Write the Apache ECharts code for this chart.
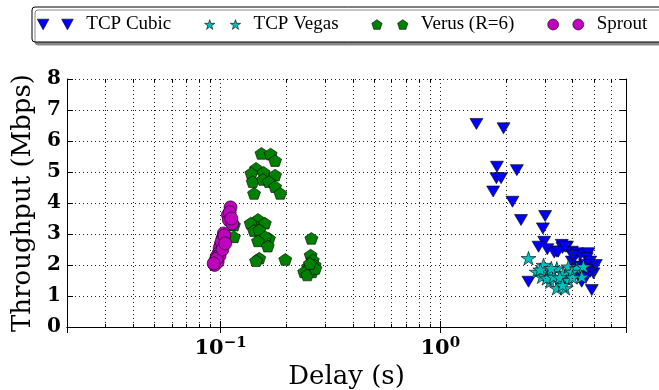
<!DOCTYPE html>
<html>
<head>
<meta charset="utf-8">
<script src="https://cdn.jsdelivr.net/npm/echarts@6/dist/echarts.min.js"></script>
<style>html,body{margin:0;padding:0;background:#fff;}#c{width:659px;height:390px;}</style>
</head>
<body>
<div id="c"></div>
<script>
// ---- data ----
const seriesNames = ['TCP Cubic', 'TCP Vegas', 'Verus (R=6)', 'Sprout'];
const cubicX = [1.46,1.94,1.81,2.23,1.80,1.89,1.74,2.13,2.33,3.00,2.93,2.97,2.80,3.07,3.39,2.52,3.57,3.77,3.97,4.18,4.33,4.72,4.64,4.81,4.89,4.56,4.40,4.11,4.81,4.33,4.89,3.97,4.98,4.40,3.60,4.00,3.30,4.60,5.10,3.44,3.70];
const cubicY = [6.55,6.41,5.17,5.06,4.80,4.80,4.37,4.04,3.45,3.58,3.18,2.75,2.59,2.51,2.43,1.46,2.65,2.59,2.43,2.38,2.32,2.38,2.22,2.11,1.95,2.00,1.89,1.95,1.78,1.62,1.19,2.11,1.73,1.46,2.55,2.30,2.40,1.60,2.00,2.43,2.59];
const vegasX = [2.52,2.95,2.75,3.16,2.90,3.39,3.63,3.83,4.18,4.48,4.40,3.16,3.51,3.39,3.70,3.05,3.83,3.28,3.97,2.85,3.50,3.20,3.60,4.00];
const vegasY = [2.22,2.00,1.78,1.73,1.62,1.89,1.73,1.95,1.89,1.95,1.62,1.46,1.46,1.25,1.25,1.57,1.51,1.62,1.78,1.85,1.60,1.90,1.35,1.60];
const verusX = [0.1535,0.169,0.177,0.145,0.138,0.157,0.177,0.140,0.156,0.166,0.177,0.187,0.142,0.148,0.137,0.159,0.142,0.150,0.166,0.160,0.148,0.164,0.115,0.115,0.150,0.145,0.197,0.259,0.257,0.263,0.268,0.250,0.240,0.261,0.248,0.270,0.255];
const verusY = [5.60,5.58,5.37,5.12,4.96,4.99,4.90,4.69,4.76,4.69,4.53,4.31,4.31,3.47,3.35,3.35,3.11,3.13,2.86,2.91,2.78,2.61,3.29,2.91,2.22,2.14,2.18,2.86,2.32,2.16,2.00,1.95,1.78,1.78,1.68,1.89,2.05];
const sproutX = [0.111,0.108,0.109,0.113,0.110,0.1035,0.102,0.100,0.099,0.098,0.096,0.095,0.094,0.097,0.101,0.104,0.099,0.096,0.102,0.105,0.112,0.093];
const sproutY = [3.86,3.61,3.45,3.34,3.70,3.02,2.86,2.65,2.54,2.38,2.27,2.14,2.00,2.10,2.75,2.95,2.30,2.20,2.50,2.70,3.50,2.05];
const xMin = 0.02, xMax = 7;
const yMin = 0, yMax = 8, yStep = 1;
const minorGridX = [0.03,0.04,0.05,0.06,0.07,0.08,0.09,0.2,0.3,0.4,0.5,0.6,0.7,0.8,0.9,2,3,4,5,6];

// ---- styles ----
const colors = ['#0000ff', '#00bfbf', '#008000', '#bf00bf'];
const FONT = 'DejaVu Serif';
function pts(list, ox) { return 'M' + list.map(p => (p[0] + ox) + ',' + p[1]).join(' L') + ' Z'; }
const triPts = [[0,0],[12,0],[6,11]];
const starPts = [[50,0],[38.8,34.5],[2.4,34.5],[31.8,55.9],[20.6,90.5],[50,69.1],[79.4,90.5],[68.2,55.9],[97.6,34.5],[61.2,34.5]];
const pentPts = [[50,0],[2.4,34.5],[20.6,90.5],[79.4,90.5],[97.6,34.5]];
const triSym = 'path://' + pts(triPts, 0);
const starSym = 'path://' + pts(starPts, 0);
const pentSym = 'path://' + pts(pentPts, 0);
const triLeg = 'path://' + pts(triPts, 0) + ' ' + pts(triPts, 25);
const starLeg = 'path://' + pts(starPts, 0) + ' ' + pts(starPts, 240);
const pentLeg = 'path://' + pts(pentPts, 0) + ' ' + pts(pentPts, 240);
const circLeg = 'path://M0,50 a50,50 0 1,0 100,0 a50,50 0 1,0 -100,0 Z M230,50 a50,50 0 1,0 100,0 a50,50 0 1,0 -100,0 Z';
const legIcons = [triLeg, starLeg, pentLeg, circLeg];
const symbols = [triSym, starSym, pentSym, 'circle'];
const sizes = [[13,12],[15,14.3],[13,12.4],13];
const xs = [cubicX, vegasX, verusX, sproutX];
const ys = [cubicY, vegasY, verusY, sproutY];

const series = seriesNames.map((n, i) => ({
  name: n, type: 'scatter', xAxisIndex: 0, yAxisIndex: 0,
  data: xs[i].map((x, k) => [x, ys[i][k]]),
  symbol: symbols[i], symbolSize: sizes[i], symbolKeepAspect: true,
  itemStyle: { color: colors[i], borderColor: '#000', borderWidth: 0.6, opacity: 1 },
  z: 3 + i
}));
// minor grid lines and minor ticks via markLine on a data-less helper series
const tickLen = 0.1; // in y units (~3px)
const minorTickSegs = [];
minorGridX.forEach(v => {
  minorTickSegs.push([{ coord: [v, yMin] }, { coord: [v, yMin + tickLen] }]);
  minorTickSegs.push([{ coord: [v, yMax] }, { coord: [v, yMax - tickLen] }]);
});
series.push({
  type: 'scatter', data: [], xAxisIndex: 0, yAxisIndex: 0, silent: true,
  markLine: {
    silent: true, symbol: 'none', label: { show: false },
    lineStyle: { color: '#222', type: [1, 3], width: 1 },
    data: minorGridX.map(v => ({ xAxis: v }))
  }, z: 1
});
series.push({
  type: 'scatter', data: [], xAxisIndex: 0, yAxisIndex: 0, silent: true,
  markLine: {
    silent: true, symbol: 'none', label: { show: false },
    lineStyle: { color: '#000', type: 'solid', width: 1 },
    data: minorTickSegs
  }, z: 2
});

const gridLine = { show: true, lineStyle: { color: '#222', type: [1, 3], width: 1 } };
const option = {
  animation: false,
  backgroundColor: '#fff',
  grid: { left: 67, right: 33, top: 79, bottom: 63, outerBoundsMode: 'none', containLabel: false },
  legend: {
    left: 32, top: 7, width: 900,
    padding: [8, 60, 8, 5],
    itemGap: 33, itemWidth: 36, itemHeight: 11,
    borderColor: '#000', borderWidth: 1, borderRadius: 3,
    backgroundColor: '#fff',
    shadowColor: '#888', shadowBlur: 0, shadowOffsetX: 3, shadowOffsetY: 3,
    textStyle: { fontFamily: 'Liberation Serif', fontSize: 19, color: '#000', padding: [0,0,0,8] },
    data: seriesNames.map((n, i) => ({ name: n, icon: legIcons[i], itemStyle: { color: colors[i], borderColor: '#000', borderWidth: 0.6 } }))
  },
  xAxis: [{
    type: 'log', logBase: 10, min: xMin, max: xMax,
    name: 'Delay (s)', nameLocation: 'middle', nameGap: 31,
    nameTextStyle: { fontFamily: FONT, fontSize: 26, color: '#000' },
    axisLine: { show: true, lineStyle: { color: '#000', width: 1 } },
    axisTick: { show: true, inside: true, length: 6, lineStyle: { color: '#000' } },
    splitLine: gridLine,
    axisLabel: {
      showMinLabel: false, showMaxLabel: false, margin: 9,
      formatter: v => '{b|10}{s|' + (Math.round(Math.log10(v)) < 0 ? '\u2212' + (-Math.round(Math.log10(v))) : Math.round(Math.log10(v))) + '}',
      rich: {
        b: { fontFamily: FONT, fontWeight: 'bold', fontSize: 21, color: '#000' },
        s: { fontFamily: FONT, fontWeight: 'bold', fontSize: 15, color: '#000', padding: [0, 0, 11, 0] }
      }
    }
  }, {
    type: 'log', logBase: 10, min: xMin, max: xMax, position: 'top',
    axisLine: { show: true, lineStyle: { color: '#000', width: 1 } },
    axisTick: { show: true, inside: true, length: 6, lineStyle: { color: '#000' } },
    axisLabel: { show: false }, splitLine: { show: false }
  }],
  yAxis: [{
    type: 'value', min: yMin, max: yMax, interval: yStep,
    name: 'Throughput (Mbps)', nameLocation: 'middle', nameGap: 31,
    nameTextStyle: { fontFamily: FONT, fontSize: 26, color: '#000' },
    axisLine: { show: true, lineStyle: { color: '#000', width: 1 } },
    axisTick: { show: true, inside: true, length: 6, lineStyle: { color: '#000' } },
    splitLine: gridLine,
    axisLabel: { fontFamily: FONT, fontWeight: 'bold', fontSize: 20, color: '#000', margin: 6 }
  }, {
    type: 'value', min: yMin, max: yMax, interval: yStep, position: 'right',
    axisLine: { show: true, lineStyle: { color: '#000', width: 1 } },
    axisTick: { show: true, inside: true, length: 6, lineStyle: { color: '#000' } },
    axisLabel: { show: false }, splitLine: { show: false }
  }],
  series: series
};
const chart = echarts.init(document.getElementById('c'), null, { renderer: 'canvas' });
chart.setOption(option);
</script>
</body>
</html>
